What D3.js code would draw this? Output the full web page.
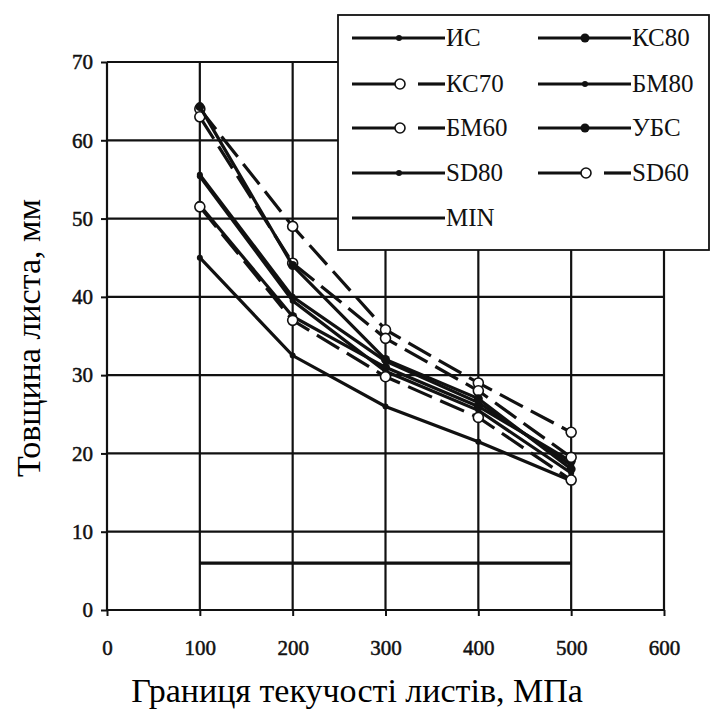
<html>
<head>
<meta charset="utf-8">
<script src="https://cdn.jsdelivr.net/npm/d3@7"></script>
<style>
  body { margin: 0; background: #fff; }
</style>
</head>
<body>
<svg id="chart" width="712" height="720"></svg>
<script>
    // x values (yield strength, MPa)
    const xVals = [100, 200, 300, 400, 500]
    const xTicks = [0, 100, 200, 300, 400, 500, 600]
    const yTicks = [0, 10, 20, 30, 40, 50, 60, 70]

    // plate thickness, mm, one array per series
    const IS   = [45, 32.5, 26, 21.5, 16.5]
    const KS80 = [51.7, 37.5, 31, 26, 19]
    const KS70 = [64, 49, 35.8, 29, 22.7]
    const BM80 = [55.6, 40, 31.8, 26.5, 18.5]
    const BM60 = [63, 44.3, 34.7, 28, 19.5]
    const UBS  = [64.3, 44, 32, 27, 18]
    const SD80 = [55.4, 39.5, 30.5, 25.5, 17.5]
    const SD60 = [51.5, 37, 29.8, 24.6, 16.6]
    const MIN  = [6, 6, 6, 6, 6]

    const seriesNames = ['ИС', 'КС80', 'КС70', 'БМ80', 'БМ60', 'УБС', 'SD80', 'SD60', 'MIN']
    const seriesVals = [IS, KS80, KS70, BM80, BM60, UBS, SD80, SD60, MIN]
    // marker: dot = small dot, fill = filled circle, open = hollow circle, none
    const styles = {
        'ИС':   { dash: null, mark: 'dot' },
        'КС80': { dash: null, mark: 'fill' },
        'КС70': { dash: '26,9', mark: 'open' },
        'БМ80': { dash: null, mark: 'dot' },
        'БМ60': { dash: '26,9', mark: 'open' },
        'УБС':  { dash: null, mark: 'fill' },
        'SD80': { dash: null, mark: 'dot' },
        'SD60': { dash: '26,9', mark: 'open' },
        'MIN':  { dash: null, mark: 'none' }
    }

    const series = seriesNames.map((name, i) => ({
        name: name,
        points: xVals.map((x, j) => ({ x: x, y: seriesVals[i][j] })),
        style: styles[name]
    }))

    const svg = d3.select('#chart')
    const x = d3.scaleLinear().domain([0, 600]).range([107, 664])
    const y = d3.scaleLinear().domain([0, 70]).range([610, 62])

    const ink = '#111'

    // grid
    svg.append('g').selectAll('line.v').data(xTicks).enter().append('line')
        .attr('x1', d => x(d)).attr('x2', d => x(d))
        .attr('y1', y(0)).attr('y2', y(70))
        .attr('stroke', ink).attr('stroke-width', 2.2)
    svg.append('g').selectAll('line.h').data(yTicks).enter().append('line')
        .attr('x1', x(0)).attr('x2', x(600))
        .attr('y1', d => y(d)).attr('y2', d => y(d))
        .attr('stroke', ink).attr('stroke-width', 2.2)

    // axes (labels + small ticks)
    const yAxis = svg.append('g').attr('transform', `translate(${x(0)},0)`)
        .call(d3.axisLeft(y).tickValues(yTicks).tickSize(6).tickPadding(8))
    yAxis.select('.domain').remove()
    yAxis.selectAll('.tick line').attr('stroke', ink).attr('stroke-width', 2)

    const xAxis = svg.append('g').attr('transform', `translate(0,${y(0)})`)
        .call(d3.axisBottom(x).tickValues(xTicks).tickSize(6).tickPadding(24))
    xAxis.select('.domain').remove()
    xAxis.selectAll('.tick line').attr('stroke', ink).attr('stroke-width', 2)

    svg.selectAll('.tick text')
        .attr('font-family', '"Liberation Serif", serif')
        .attr('font-size', 21)
        .attr('fill', ink)
        .attr('stroke', ink)
        .attr('stroke-width', 0.5)

    const lineFn = d3.line().x(d => x(d.x)).y(d => y(d.y))

    function drawMarker(g, mark, cx, cy) {
        if (mark === 'dot') {
            g.append('circle').attr('cx', cx).attr('cy', cy).attr('r', 3).attr('fill', ink)
        } else if (mark === 'fill') {
            g.append('circle').attr('cx', cx).attr('cy', cy).attr('r', 4.5).attr('fill', ink)
        } else if (mark === 'open') {
            g.append('circle').attr('cx', cx).attr('cy', cy).attr('r', 5)
                .attr('fill', '#fff').attr('stroke', ink).attr('stroke-width', 1.6)
        }
    }

    const plot = svg.append('g')
    series.forEach(s => {
        const g = plot.append('g')
        g.append('path')
            .attr('d', lineFn(s.points))
            .attr('fill', 'none')
            .attr('stroke', ink)
            .attr('stroke-width', 3.2)
            .attr('stroke-dasharray', s.style.dash)
        s.points.forEach(p => drawMarker(g, s.style.mark, x(p.x), y(p.y)))
    })

    // legend
    const leg = svg.append('g')
    leg.append('rect')
        .attr('x', 338).attr('y', 15).attr('width', 371).attr('height', 235)
        .attr('fill', '#fff').attr('stroke', ink).attr('stroke-width', 1.8)

    const rowY = [38, 84, 128, 173, 218]
    const colX = [352, 538]
    seriesNames.forEach((name, i) => {
        const col = i === 8 ? 0 : i % 2
        const row = Math.floor(i / 2)
        const x0 = colX[col], x1 = x0 + 93, yy = rowY[row]
        const st = styles[name]
        const g = leg.append('g')
        if (st.dash) {
            g.append('line').attr('x1', x0).attr('x2', x0 + 46).attr('y1', yy).attr('y2', yy)
                .attr('stroke', ink).attr('stroke-width', 3.2)
            g.append('line').attr('x1', x0 + 66).attr('x2', x1).attr('y1', yy).attr('y2', yy)
                .attr('stroke', ink).attr('stroke-width', 3.2)
            drawMarker(g, st.mark, x0 + 48, yy)
        } else {
            g.append('line').attr('x1', x0).attr('x2', x1).attr('y1', yy).attr('y2', yy)
                .attr('stroke', ink).attr('stroke-width', 3.2)
            drawMarker(g, st.mark, x0 + 47, yy)
        }
        g.append('text')
            .attr('x', x1 + 1).attr('y', yy + 8)
            .attr('font-family', '"Liberation Serif", serif')
            .attr('font-size', 25)
            .attr('fill', ink)
            .text(name)
    })

    // axis titles
    svg.append('text')
        .attr('x', 357).attr('y', 702)
        .attr('text-anchor', 'middle')
        .attr('font-family', '"Liberation Serif", serif')
        .attr('font-size', 34)
        .attr('fill', '#000')
        .text('Границя текучості листів, МПа')

    svg.append('text')
        .attr('transform', 'translate(40,338) rotate(-90)')
        .attr('text-anchor', 'middle')
        .attr('font-family', '"Liberation Serif", serif')
        .attr('font-size', 34)
        .attr('fill', '#000')
        .text('Товщина листа, мм')
</script>
</body>
</html>
